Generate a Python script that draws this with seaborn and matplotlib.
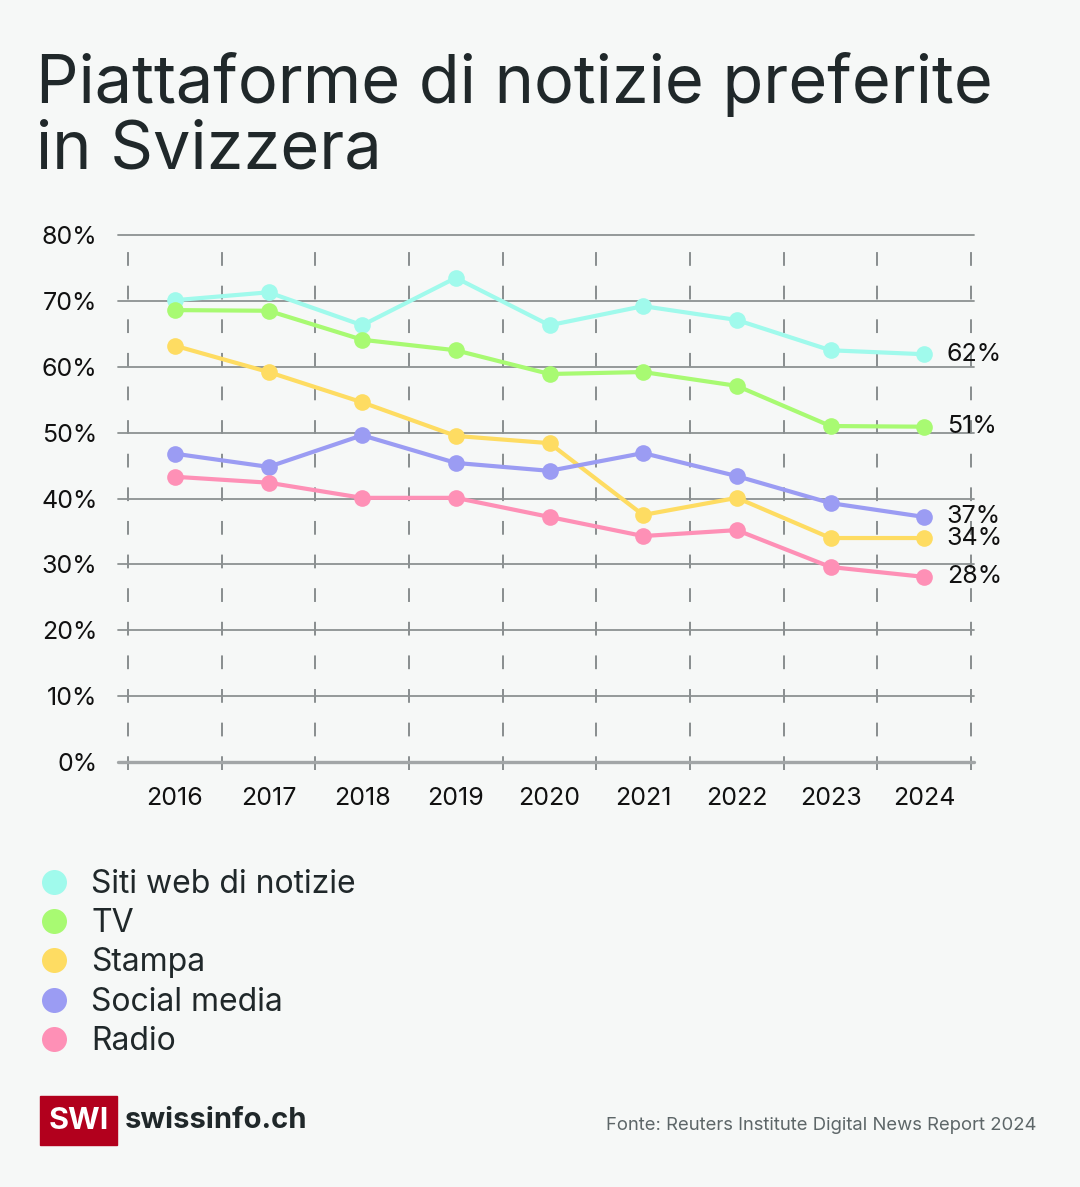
import matplotlib
matplotlib.use("Agg")
import matplotlib.pyplot as plt
from matplotlib.lines import Line2D
from matplotlib.patches import Rectangle
import pandas as pd
import seaborn as sns

YEARS = [2016, 2017, 2018, 2019, 2020, 2021, 2022, 2023, 2024]
SITI_WEB = [70.1, 71.3, 66.3, 73.5, 66.3, 69.2, 67.1, 62.5, 61.9]
TV = [68.6, 68.5, 64.1, 62.5, 58.9, 59.2, 57.1, 51.0, 50.9]
STAMPA = [63.2, 59.2, 54.6, 49.5, 48.4, 37.5, 40.1, 34.0, 34.0]
SOCIAL = [46.8, 44.8, 49.6, 45.4, 44.2, 46.9, 43.4, 39.3, 37.2]
RADIO = [43.3, 42.4, 40.1, 40.1, 37.2, 34.3, 35.2, 29.6, 28.1]
SERIES = ["Siti web di notizie", "TV", "Stampa", "Social media", "Radio"]
END_LABELS = ["62%", "51%", "34%", "37%", "28%"]
COLORS = ["#a0faec", "#a8fa72", "#fedc62", "#9b9cf3", "#fe90b6"]
Y_TICKS = [0, 10, 20, 30, 40, 50, 60, 70, 80]

BG = "#f6f8f7"
TXT = "#20282a"

df = pd.DataFrame({"year": YEARS * 5,
                   "value": SITI_WEB + TV + STAMPA + SOCIAL + RADIO,
                   "platform": [s for s in SERIES for _ in YEARS]})

sns.set_theme(style="white")
plt.rcParams["font.family"] = ["Inter", "DejaVu Sans"]

fig = plt.figure(figsize=(10.8, 11.87), dpi=100, facecolor=BG)
ax = fig.add_axes([128 / 1080, 1 - 762 / 1187, (971 - 128) / 1080, (762 - 235) / 1187])
ax.set_facecolor(BG)

# grid first so the lines sit on top
for x in [y - 0.5 for y in YEARS] + [YEARS[-1] + 0.5]:
    ax.plot([x, x], [-1.2, 80], color="#6b7173", lw=1.1, ls=(0, (9, 13)),
            clip_on=False, zorder=1)
for t in Y_TICKS:
    ax.axhline(t, color="#a2a6a7" if t == 0 else "#8c9192", lw=2.4 if t == 0 else 1.3,
               xmin=-0.012, xmax=1.003, clip_on=False, zorder=1)

sns.lineplot(data=df, x="year", y="value", hue="platform", hue_order=SERIES,
             palette=dict(zip(SERIES, COLORS)), marker="o", markersize=12,
             markeredgewidth=0, linewidth=3, legend=False, ax=ax, zorder=3)

last = [SITI_WEB[-1], TV[-1], STAMPA[-1], SOCIAL[-1], RADIO[-1]]
for v, lab in zip(last, END_LABELS):
    ax.text(YEARS[-1] + 0.24, v, lab, fontsize=18, color="#111", va="center", ha="left")

ax.set_xlim(YEARS[0] - 0.5, YEARS[-1] + 0.5)
ax.set_ylim(0, 80)
ax.set_xticks(YEARS)
ax.set_xticklabels([str(y) for y in YEARS])
ax.set_yticks(Y_TICKS)
ax.set_yticklabels([f"{t}%" for t in Y_TICKS])
ax.tick_params(axis="both", length=0, labelsize=18, labelcolor="#111")
ax.tick_params(axis="y", pad=22)
ax.tick_params(axis="x", pad=18)
ax.set_xlabel("")
ax.set_ylabel("")
sns.despine(ax=ax, left=True, bottom=True)

fig.text(36 / 1080, 1 - 52 / 1187, "Piattaforme di notizie preferite\nin Svizzera",
         fontsize=48, color=TXT, va="top", ha="left", linespacing=1.06)

handles = [Line2D([], [], ls="", marker="o", markersize=18, markeredgewidth=0, color=c)
           for c in COLORS]
fig.legend(handles, SERIES, loc="upper left", bbox_to_anchor=(16 / 1080, 1 - 856 / 1187),
           frameon=False, fontsize=23, handletextpad=0.36, handlelength=1.6,
           labelspacing=0.26, borderaxespad=0, labelcolor=TXT)

fig.patches.append(Rectangle((40 / 1080, 1 - 1145 / 1187), 77 / 1080, 49 / 1187,
                             transform=fig.transFigure, color="#b2001d"))
fig.text(78.5 / 1080, 1 - 1121 / 1187, "SWI", fontsize=22, fontweight="bold",
         color="white", ha="center", va="center")
fig.text(125 / 1080, 1 - 1121 / 1187, "swissinfo.ch", fontsize=21, fontweight="bold",
         color=TXT, ha="left", va="center")
fig.text(1036 / 1080, 1 - 1125 / 1187, "Fonte: Reuters Institute Digital News Report 2024",
         fontsize=13.3, color="#5d6668", ha="right", va="center")

fig.savefig("out.png", dpi=100, facecolor=BG)
